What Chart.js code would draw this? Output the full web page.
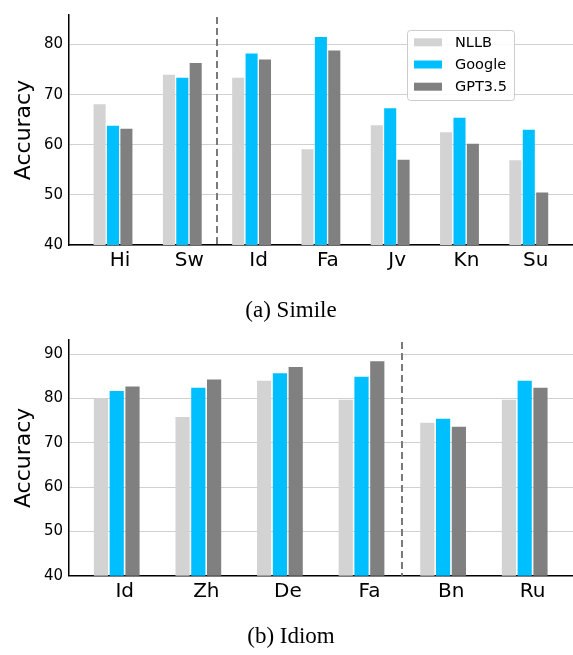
<!DOCTYPE html>
<html>
<head>
<meta charset="utf-8">
<script src="https://cdn.jsdelivr.net/npm/chart.js@4.4.1/dist/chart.umd.min.js"></script>
<style>
  html, body { margin: 0; padding: 0; background: #ffffff; }
  #wrap { position: relative; width: 573px; height: 655px; }
  #c1wrap { position: absolute; left: 0; top: 0; width: 573px; height: 325px; }
  #c2wrap { position: absolute; left: 0; top: 325px; width: 573px; height: 330px; }
</style>
</head>
<body>
<div id="wrap">
  <div id="c1wrap"><canvas id="c1"></canvas></div>
  <div id="c2wrap"><canvas id="c2"></canvas></div>
</div>
<script>
// ---- Data ----
const seriesNames = ['NLLB', 'Google', 'GPT3.5'];

const simileCategories = ['Hi', 'Sw', 'Id', 'Fa', 'Jv', 'Kn', 'Su'];
const simileNLLB   = [68.1, 74.0, 73.4, 59.1, 63.9, 62.5, 56.9];
const simileGoogle = [63.8, 73.4, 78.2, 81.5, 67.3, 65.4, 63.0];
const simileGPT    = [63.2, 76.3, 77.0, 78.8, 57.0, 60.2, 50.5];
const simileSplit  = 1.5;          // dashed separator between Sw and Id
const simileYTicks = [40, 50, 60, 70, 80];

const idiomCategories = ['Id', 'Zh', 'De', 'Fa', 'Bn', 'Ru'];
const idiomNLLB   = [80.0, 75.8, 84.0, 79.7, 74.5, 79.7];
const idiomGoogle = [81.7, 82.4, 85.7, 84.9, 75.4, 84.0];
const idiomGPT    = [82.7, 84.3, 87.1, 88.4, 73.6, 82.4];
const idiomSplit  = 3.5;           // dashed separator between Fa and Bn
const idiomYTicks = [40, 50, 60, 70, 80, 90];

const colors = ['#d3d3d3', '#00bfff', '#808080'];

// ---- helpers ----
function toPoints(vals) { return vals.map((v, i) => ({ x: i, y: v })); }

function makeDatasets(series) {
  return series.map((vals, k) => ({
    label: seriesNames[k],
    data: toPoints(vals),
    backgroundColor: colors[k],
    borderWidth: 0,
    categoryPercentage: 0.58,
    barPercentage: 0.9
  }));
}

const separatorPlugin = {
  id: 'separator',
  afterDatasetsDraw(chart, args, opts) {
    const { ctx, chartArea, scales } = chart;
    const x = Math.round(scales.x.getPixelForValue(opts.value));
    ctx.save();
    ctx.strokeStyle = '#7a7a7a';
    ctx.lineWidth = 2;
    ctx.setLineDash([7, 4]);
    ctx.beginPath();
    ctx.moveTo(x, chartArea.top + 2);
    ctx.lineTo(x, chartArea.bottom);
    ctx.stroke();
    ctx.restore();
  }
};

const boxLegendPlugin = {
  id: 'boxLegend',
  afterDatasetsDraw(chart, args, opts) {
    if (!opts.show) return;
    const { ctx } = chart;
    const bx = 407.5, by = 30.5, bw = 107, bh = 70, r = 3;
    ctx.save();
    ctx.fillStyle = 'rgba(255,255,255,0.85)';
    ctx.strokeStyle = '#cccccc';
    ctx.lineWidth = 1;
    ctx.beginPath();
    ctx.roundRect(bx, by, bw, bh, r);
    ctx.fill();
    ctx.stroke();
    ctx.font = '14.5px "DejaVu Sans"';
    ctx.textBaseline = 'middle';
    ctx.textAlign = 'left';
    chart.data.datasets.forEach((ds, i) => {
      const cy = 42.3 + i * 22.2;
      ctx.fillStyle = ds.backgroundColor;
      ctx.fillRect(414, cy - 4, 28, 8);
      ctx.fillStyle = '#000000';
      ctx.fillText(ds.label, 455, cy + 0.5);
    });
    ctx.restore();
  }
};

function makeChart(canvasId, cats, series, yTicks, yMax, split, title, cfg) {
  return new Chart(document.getElementById(canvasId), {
    type: 'bar',
    data: { datasets: makeDatasets(series) },
    options: {
      responsive: true,
      maintainAspectRatio: false,
      animation: false,
      devicePixelRatio: 1,
      layout: { padding: { left: 9, right: 0, top: cfg.padTop, bottom: cfg.padBottom } },
      plugins: {
        legend: { display: false },
        tooltip: { enabled: false },
        title: {
          display: true,
          position: 'bottom',
          text: title,
          color: '#000000',
          font: { family: '"Liberation Serif", "Times New Roman", serif', size: 23, weight: 'normal', lineHeight: 1.2 },
          padding: 0
        },
        separator: { value: split },
        boxLegend: { show: cfg.legend }
      },
      scales: {
        x: {
          type: 'linear',
          offset: false,
          min: cfg.xMin,
          max: cfg.xMax,
          afterBuildTicks(scale) { scale.ticks = cats.map((c, i) => ({ value: i })); },
          afterFit(scale) { scale.height = cfg.xHeight; },
          grid: { display: false, drawTicks: false },
          border: { display: true, color: '#000000', width: 1.5 },
          ticks: {
            callback: (v) => cats[v],
            autoSkip: false,
            maxRotation: 0,
            labelOffset: cfg.labelOffset,
            padding: 4,
            color: '#000000',
            font: { family: '"DejaVu Sans"', size: 20 }
          }
        },
        y: {
          min: 40,
          max: yMax,
          afterBuildTicks(scale) { scale.ticks = yTicks.map(v => ({ value: v })); },
          afterFit(scale) { scale.width = 60; },
          grid: { display: true, drawTicks: false, color: '#d0d0d0', lineWidth: 1 },
          border: { display: true, color: '#000000', width: 1.5 },
          ticks: {
            padding: 6,
            color: '#000000',
            font: { family: '"DejaVu Sans"', size: 15 }
          },
          title: {
            display: true,
            text: 'Accuracy',
            color: '#000000',
            font: { family: '"DejaVu Sans"', size: 22, lineHeight: 1.2 },
            padding: { top: 2, bottom: 0 }
          }
        }
      }
    },
    plugins: [separatorPlugin, boxLegendPlugin]
  });
}

makeChart('c1', simileCategories, [simileNLLB, simileGoogle, simileGPT], simileYTicks, 85.9,
  simileSplit, '(a) Simile',
  { padTop: 10, padBottom: 0, xHeight: 52.4, xMin: -0.635, xMax: 6.638, labelOffset: 7, legend: true });

makeChart('c2', idiomCategories, [idiomNLLB, idiomGoogle, idiomGPT], idiomYTicks, 93.2,
  idiomSplit, '(b) Idiom',
  { padTop: 15, padBottom: 4.2, xHeight: 47.5, xMin: -0.585, xMax: 5.592, labelOffset: 8, legend: false });
</script>
</body>
</html>
